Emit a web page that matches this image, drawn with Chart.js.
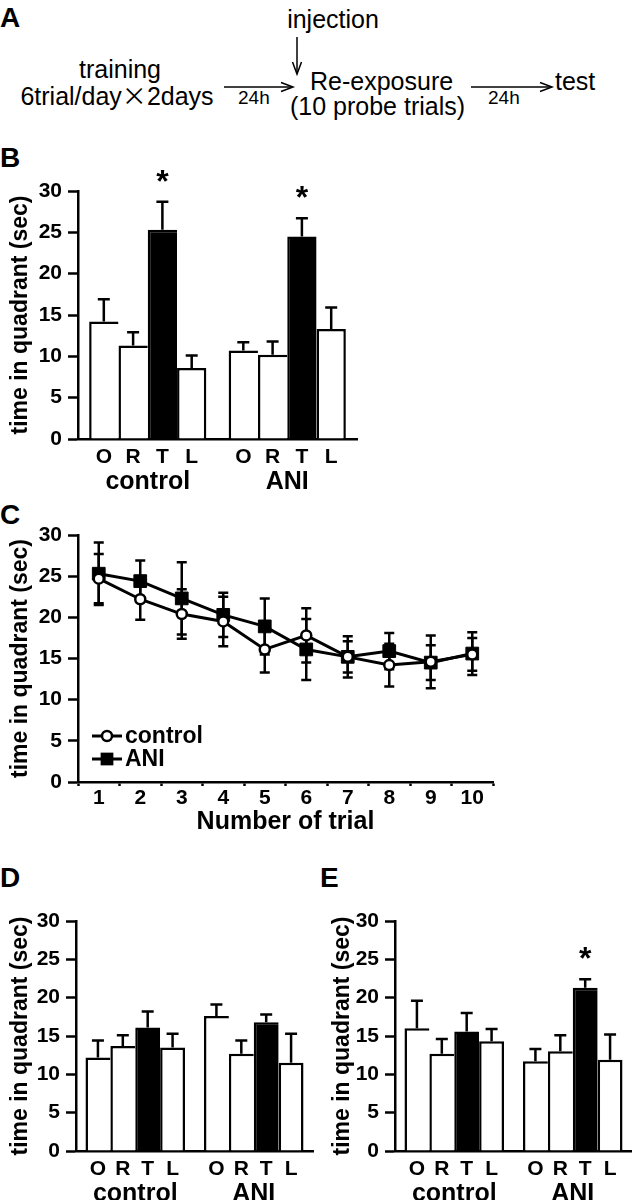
<!DOCTYPE html>
<html>
<head>
<meta charset="utf-8">
<script src="https://cdn.jsdelivr.net/npm/chart.js"></script>
<style>
  body { margin: 0; background: #fff; }
  #page { position: relative; width: 632px; height: 1200px; overflow: hidden; font-family: "Liberation Sans", Arial, sans-serif; }
  canvas { position: absolute; }
  .panel { position: absolute; font-weight: bold; font-size: 28px; line-height: 1; }
</style>
</head>
<body>
<div id="page">
  <svg width="632" height="130" style="position:absolute;left:0;top:0" font-family="Liberation Sans, Arial, sans-serif" font-size="25">
    <text x="333" y="28" text-anchor="middle">injection</text>
    <line x1="297" y1="37" x2="297" y2="73" stroke="#000" stroke-width="1.5"/>
    <polyline points="292.5,62 297,74 301.5,62" fill="none" stroke="#000" stroke-width="1.5"/>
    <text x="120" y="78" text-anchor="middle">training</text>
    <text x="117" y="105" text-anchor="middle">6trial/day<tspan font-family="Noto Sans CJK JP">×</tspan>2days</text>
    <line x1="224" y1="87" x2="292" y2="87" stroke="#000" stroke-width="1.5"/>
    <polyline points="281,82.5 293,87 281,91.5" fill="none" stroke="#000" stroke-width="1.5"/>
    <text x="238" y="104" font-size="19">24h</text>
    <text x="310" y="90">Re-exposure</text>
    <text x="290" y="115">(10 probe trials)</text>
    <line x1="471" y1="87" x2="551" y2="87" stroke="#000" stroke-width="1.5"/>
    <polyline points="540,82.5 552,87 540,91.5" fill="none" stroke="#000" stroke-width="1.5"/>
    <text x="488" y="104" font-size="19">24h</text>
    <text x="555" y="90">test</text>
  </svg>
  <div class="panel" style="left:0;top:4px">A</div>
  <div class="panel" style="left:0;top:144px">B</div>
  <div class="panel" style="left:0;top:501px">C</div>
  <div class="panel" style="left:0;top:864px">D</div>
  <div class="panel" style="left:320px;top:864px">E</div>
  <canvas id="chartB" width="380" height="380" style="left:0;top:120px"></canvas>
  <canvas id="chartC" width="520" height="340" style="left:0;top:500px"></canvas>
  <canvas id="chartD" width="320" height="350" style="left:0;top:850px"></canvas>
  <canvas id="chartE" width="310" height="350" style="left:322px;top:850px"></canvas>
</div>
<script>
// groups and quadrants shared by the bar panels
const groups = ['control', 'ANI'];
const quadrants = ['O', 'R', 'T', 'L'];

// B: re-exposure, time in quadrant (sec), mean and SEM
const bControl = [14.2, 11.3, 25.3, 8.6];
const bControlSem = [2.7, 1.6, 3.4, 1.5];
const bAni = [10.7, 10.2, 24.5, 13.3];
const bAniSem = [1.0, 1.6, 2.2, 2.6];
const bStarControl = [false, false, true, false];
const bStarAni = [false, false, true, false];

// C: probe trials during re-exposure
const trials = ['1', '2', '3', '4', '5', '6', '7', '8', '9', '10'];
const cControl = [24.7, 22.2, 20.4, 19.5, 16.1, 17.8, 15.2, 14.2, 14.6, 15.5];
const cControlSem = [3.0, 2.5, 3.0, 3.0, 2.8, 3.3, 2.5, 2.6, 3.2, 2.0];
const cAni = [25.3, 24.4, 22.3, 20.3, 18.9, 16.1, 15.2, 15.9, 14.5, 15.6];
const cAniSem = [3.8, 2.5, 4.4, 2.7, 3.4, 3.7, 1.9, 2.2, 2.1, 2.6];

// D
const dControl = [12.2, 13.7, 16.1, 13.5];
const dControlSem = [2.2, 1.4, 2.1, 1.8];
const dAni = [17.6, 12.7, 16.8, 11.5];
const dAniSem = [1.5, 1.7, 1.0, 3.8];
const dStarControl = [false, false, false, false];
const dStarAni = [false, false, false, false];

// E
const eControl = [16.0, 12.7, 15.6, 14.3];
const eControlSem = [3.6, 1.9, 2.4, 1.6];
const eAni = [11.7, 13.0, 21.3, 11.9];
const eAniSem = [1.6, 2.1, 1.1, 3.3];
const eStarControl = [false, false, false, false];
const eStarAni = [false, false, true, false];

const FONT = '"Liberation Sans", Arial, Helvetica, sans-serif';
Chart.defaults.font.family = FONT;
Chart.defaults.font.weight = 'bold';
Chart.defaults.color = '#000';

const yTitle = 'time in quadrant (sec)';

function yAxis(width) {
  return {
    min: 0, max: 30,
    ticks: { stepSize: 5, padding: 6, font: { size: 21, weight: 'bold' } },
    grid: { drawOnChartArea: false, tickLength: 10, tickColor: '#000', tickWidth: 2.5 },
    border: { color: '#000', width: 2.5 },
    title: { display: true, text: yTitle, font: { size: 23, weight: 'bold' }, padding: { top: 7, bottom: 0 } },
    afterFit: s => { s.width = width; }
  };
}

// error bars, asterisks and O/R/T/L letters under the bars
const barExtras = {
  id: 'barExtras',
  afterDatasetsDraw(chart) {
    const ctx = chart.ctx;
    const ys = chart.scales.y;
    const xs = chart.scales.x;
    ctx.save();
    ctx.strokeStyle = '#000';
    ctx.fillStyle = '#000';
    ctx.lineWidth = 2.5;
    ctx.textAlign = 'center';
    ctx.textBaseline = 'alphabetic';
    chart.data.datasets.forEach((ds, i) => {
      chart.getDatasetMeta(i).data.forEach((bar, j) => {
        const cap = ys.getPixelForValue(ds.data[j] + ds.sem[j]);
        ctx.beginPath();
        ctx.moveTo(bar.x, bar.y);
        ctx.lineTo(bar.x, cap);
        ctx.moveTo(bar.x - 6, cap);
        ctx.lineTo(bar.x + 6, cap);
        ctx.stroke();
        if (ds.stars[j]) {
          ctx.font = 'bold 32px ' + FONT;
          ctx.fillText('*', bar.x, cap - 28 + 18);
        }
        ctx.font = 'bold 21px ' + FONT;
        ctx.fillText(ds.label, bar.x, xs.top + 24);
      });
    });
    ctx.restore();
  }
};

function barChart(id, control, controlSem, ani, aniSem, starControl, starAni, box) {
  const datasets = quadrants.map((q, i) => ({
    label: q,
    data: [control[i], ani[i]],
    sem: [controlSem[i], aniSem[i]],
    stars: [starControl[i], starAni[i]],
    backgroundColor: q === 'T' ? '#000' : '#fff',
    borderColor: '#000',
    borderWidth: { top: 2.5, left: 2.5, right: q === 'L' ? 2.5 : 0, bottom: 0 },
    categoryPercentage: 0.84,
    barPercentage: 1
  }));
  new Chart(document.getElementById(id), {
    type: 'bar',
    data: { labels: groups, datasets: datasets },
    options: {
      responsive: false,
      animation: false,
      layout: { padding: { top: box.top, right: box.right, left: 0, bottom: 0 } },
      plugins: { legend: { display: false }, tooltip: { enabled: false } },
      scales: {
        x: {
          grid: { display: false },
          border: { color: '#000', width: 2.5 },
          ticks: { padding: 20, font: { size: 25, weight: 'bold' } },
          afterFit: s => { s.height = box.xh; }
        },
        y: yAxis(box.yw)
      }
    },
    plugins: [barExtras]
  });
}

barChart('chartB', bControl, bControlSem, bAni, bAniSem, bStarControl, bStarAni, { top: 71, right: 23, xh: 61, yw: 78 });
barChart('chartD', dControl, dControlSem, dAni, dAniSem, dStarControl, dStarAni, { top: 71, right: 7, xh: 49, yw: 76 });
barChart('chartE', eControl, eControlSem, eAni, eAniSem, eStarControl, eStarAni, { top: 71, right: 0, xh: 49, yw: 73 });

// error bars behind the line markers, legend drawn inside the plot
const lineExtras = {
  id: 'lineExtras',
  beforeDatasetsDraw(chart) {
    const ctx = chart.ctx;
    const ys = chart.scales.y;
    ctx.save();
    ctx.strokeStyle = '#000';
    ctx.lineWidth = 2.5;
    chart.data.datasets.forEach((ds, i) => {
      chart.getDatasetMeta(i).data.forEach((pt, j) => {
        const hi = ys.getPixelForValue(ds.data[j] + ds.sem[j]);
        const lo = ys.getPixelForValue(ds.data[j] - ds.sem[j]);
        ctx.beginPath();
        ctx.moveTo(pt.x, hi);
        ctx.lineTo(pt.x, lo);
        ctx.moveTo(pt.x - 5, hi);
        ctx.lineTo(pt.x + 5, hi);
        ctx.moveTo(pt.x - 5, lo);
        ctx.lineTo(pt.x + 5, lo);
        ctx.stroke();
      });
    });
    ctx.restore();
  },
  afterDraw(chart) {
    const ctx = chart.ctx;
    const area = chart.chartArea;
    ctx.save();
    chart.data.datasets.forEach((ds, i) => {
      const y = area.bottom - 46 + i * 23;
      const x0 = area.left + 14;
      ctx.strokeStyle = '#000';
      ctx.lineWidth = 3;
      ctx.beginPath();
      ctx.moveTo(x0, y);
      ctx.lineTo(x0 + 30, y);
      ctx.stroke();
      ctx.fillStyle = ds.pointBackgroundColor;
      ctx.lineWidth = ds.pointBorderWidth;
      if (ds.pointStyle === 'rect') {
        const s = ds.pointRadius * Math.SQRT1_2;
        ctx.fillRect(x0 + 15 - s, y - s, 2 * s, 2 * s);
      } else {
        ctx.beginPath();
        ctx.arc(x0 + 15, y, ds.pointRadius, 0, Math.PI * 2);
        ctx.fill();
        ctx.stroke();
      }
      ctx.fillStyle = '#000';
      ctx.font = 'bold 23px ' + FONT;
      ctx.textAlign = 'left';
      ctx.textBaseline = 'middle';
      ctx.fillText(ds.label, x0 + 33, y + 1);
    });
    ctx.restore();
  }
};

new Chart(document.getElementById('chartC'), {
  type: 'line',
  data: {
    labels: trials,
    datasets: [
      {
        label: 'control', data: cControl, sem: cControlSem,
        borderColor: '#000', borderWidth: 3,
        pointStyle: 'circle', pointRadius: 5, pointBorderWidth: 2.5,
        pointBackgroundColor: '#fff', pointBorderColor: '#000'
      },
      {
        label: 'ANI', data: cAni, sem: cAniSem,
        borderColor: '#000', borderWidth: 3,
        pointStyle: 'rect', pointRadius: 9, pointBorderWidth: 1,
        pointBackgroundColor: '#000', pointBorderColor: '#000'
      }
    ]
  },
  options: {
    responsive: false,
    animation: false,
    layout: { padding: { top: 35, right: 27, left: 0, bottom: 0 } },
    plugins: { legend: { display: false }, tooltip: { enabled: false } },
    scales: {
      x: {
        offset: true,
        grid: { offset: true, drawOnChartArea: false, tickLength: 4, tickColor: '#000', tickWidth: 2.5 },
        border: { color: '#000', width: 2.5 },
        ticks: { padding: 0, font: { size: 21, weight: 'bold' } },
        title: { display: true, text: 'Number of trial', font: { size: 25, weight: 'bold' }, padding: { top: 0, bottom: 3 } },
        afterFit: s => { s.height = 58; }
      },
      y: yAxis(78)
    }
  },
  plugins: [lineExtras]
});
</script>
</body>
</html>
